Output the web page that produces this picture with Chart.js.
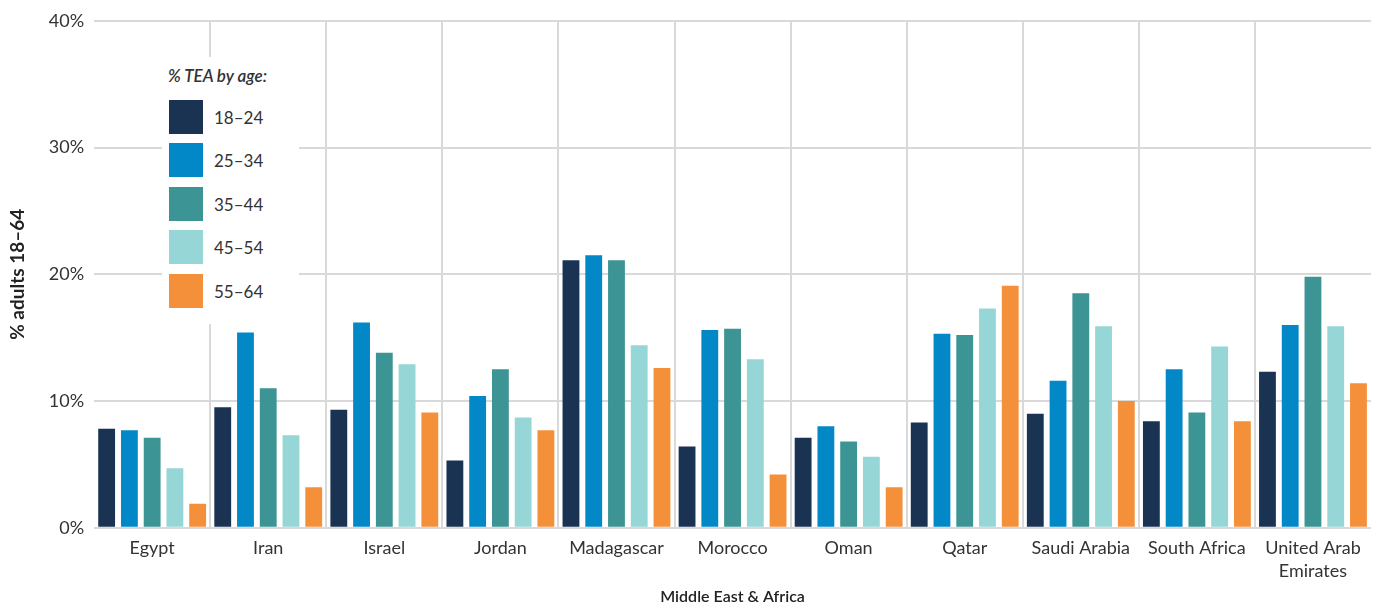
<!DOCTYPE html>
<html>
<head>
<meta charset="utf-8">
<script src="https://cdn.jsdelivr.net/npm/chart.js@4.4.0/dist/chart.umd.min.js"></script>
<style>
  html, body { margin: 0; padding: 0; background: #fff; }
  #wrap { position: relative; width: 1382px; height: 606px; }
  #legend {
    position: absolute; left: 162px; top: 57px; width: 137px; height: 267px;
    background: #fff; font-family: Lato, sans-serif; color: #333;
  }
  #legend .title { position: absolute; left: 6px; top: 8px; font-size: 17px; font-style: italic; font-weight: 600; color: #333; white-space: nowrap; }
  #legend .item { position: absolute; left: 7px; height: 34px; }
  #legend .sw { position: absolute; left: 0; top: 0; width: 34px; height: 34px; }
  #legend .lab { position: absolute; left: 45px; top: 7px; font-size: 17px; white-space: nowrap; }
</style>
</head>
<body>
<div id="wrap">
  <canvas id="myCanvas" width="1382" height="606"></canvas>
  <div id="legend"><div class="title">% TEA by age:</div></div>
</div>
<script>
// categories + values (% of adults 18-64)
let countries = ['Egypt', 'Iran', 'Israel', 'Jordan', 'Madagascar', 'Morocco', 'Oman', 'Qatar',
  'Saudi Arabia', 'South Africa', ['United Arab', 'Emirates']];
let ageGroups = ['18–24', '25–34', '35–44', '45–54', '55–64'];
let age1824 = [7.8, 9.5, 9.3, 5.3, 21.1, 6.4, 7.1, 8.3, 9.0, 8.4, 12.3];
let age2534 = [7.7, 15.4, 16.2, 10.4, 21.5, 15.6, 8.0, 15.3, 11.6, 12.5, 16.0];
let age3544 = [7.1, 11.0, 13.8, 12.5, 21.1, 15.7, 6.8, 15.2, 18.5, 9.1, 19.8];
let age4554 = [4.7, 7.3, 12.9, 8.7, 14.4, 13.3, 5.6, 17.3, 15.9, 14.3, 15.9];
let age5564 = [1.9, 3.2, 9.1, 7.7, 12.6, 4.2, 3.2, 19.1, 10.0, 8.4, 11.4];
let yTicks = [0, 10, 20, 30, 40];

let colors = ['#1b3353', '#0288c7', '#3d9494', '#97d6d6', '#f5903a'];
let series = [age1824, age2534, age3544, age4554, age5564];

let gridColor = '#d9d9d9';
let font = 'Lato, sans-serif';

let data = {
  labels: countries,
  datasets: series.map(function(vals, i) {
    return {
      label: ageGroups[i],
      data: vals,
      backgroundColor: colors[i],
      categoryPercentage: 0.98,
      barPercentage: 0.74
    };
  })
};

let options = {
  responsive: false,
  animation: false,
  layout: { padding: { top: 10, right: 11, bottom: 0, left: 6 } },
  plugins: { legend: { display: false }, tooltip: { enabled: false } },
  scales: {
    x: {
      grid: {
        color: function(ctx) { return (ctx.type === 'tick' && ctx.index > 0) ? gridColor : 'transparent'; },
        lineWidth: 2,
        drawTicks: false
      },
      border: { display: false },
      ticks: { color: '#333', font: { family: font, size: 18, lineHeight: 1.28 }, padding: 9, maxRotation: 0, autoSkip: false },
      title: { display: true, text: 'Middle East & Africa', color: '#222', font: { family: font, size: 16, weight: '600', lineHeight: 1.2 }, padding: { top: -5, bottom: 0 } }
    },
    y: {
      min: 0, max: 40,
      afterBuildTicks: function(axis) { axis.ticks = yTicks.map(function(v) { return { value: v }; }); },
      grid: { color: gridColor, lineWidth: 2, drawTicks: false },
      border: { display: false },
      ticks: { color: '#333', font: { family: font, size: 18 }, padding: 10, callback: function(v) { return v + '%'; } },
      title: { display: true, text: '% adults 18–64', color: '#222', font: { family: font, size: 19, weight: 'bold' }, padding: { top: 0, bottom: 10 } }
    }
  }
};

var chrt = document.getElementById('myCanvas');
var myBarChart = new Chart(chrt, { type: 'bar', data: data, options: options });

// legend box sitting inside the plot, white background over the grid
let legendEl = document.getElementById('legend');
ageGroups.forEach(function(name, i) {
  let item = document.createElement('div');
  item.className = 'item';
  item.style.top = (43 + i * 43.4) + 'px';
  item.innerHTML = '<div class="sw" style="background:' + colors[i] + '"></div><div class="lab">' + name + '</div>';
  legendEl.appendChild(item);
});
</script>
</body>
</html>
